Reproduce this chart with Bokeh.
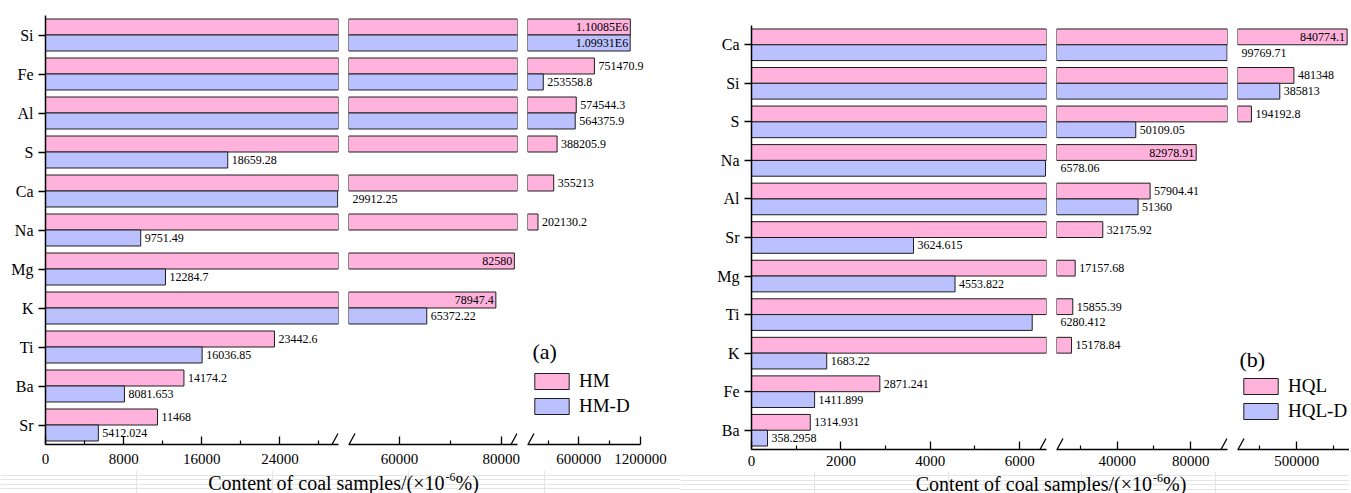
from bokeh.plotting import figure
from bokeh.models import (ColumnDataSource, FactorRange, Range1d, FixedTicker, CDSView, IndexFilter,
                          NumeralTickFormatter, LabelSet, Label, Legend, LegendItem, Arrow)
from bokeh.transform import dodge
from bokeh.layouts import row, column
from bokeh.core.properties import value
from bokeh.embed import file_html
from bokeh.resources import INLINE

# ---------------- data ----------------
elements_a = ["Si", "Fe", "Al", "S", "Ca", "Na", "Mg", "K", "Ti", "Ba", "Sr"]
hm = [1100850, 751470.9, 574544.3, 388205.9, 355213, 202130.2, 82580, 78947.4, 23442.6, 14174.2, 11468]
hm_d = [1099310, 253558.8, 564375.9, 18659.28, 29912.25, 9751.49, 12284.7, 65372.22, 16036.85, 8081.653, 5412.024]
series_a = ["HM", "HM-D"]

elements_b = ["Ca", "Si", "S", "Na", "Al", "Sr", "Mg", "Ti", "K", "Fe", "Ba"]
hql = [840774.1, 481348, 194192.8, 82978.91, 57904.41, 32175.92, 17157.68, 15855.39, 15178.84, 2871.241, 1314.931]
hql_d = [99769.71, 385813, 50109.05, 6578.06, 51360, 3624.615, 4553.822, 6280.412, 1683.22, 1411.899, 358.2958]
series_b = ["HQL", "HQL-D"]

# broken x axis: value span of every segment, and its ticks
segments_a = [(0, 30000), (50000, 83200), (100000, 1200000)]
major_ticks_a = [[0, 8000, 16000, 24000], [60000, 80000], [600000, 1200000]]
minor_ticks_a = [[4000, 12000, 20000, 28000], [70000], [300000, 900000]]
segments_b = [(0, 6600), (7000, 100000), (100000, 857000)]
major_ticks_b = [[0, 2000, 4000, 6000], [40000, 80000], [500000]]
minor_ticks_b = [[1000, 3000, 5000], [20000, 60000], [250000, 750000]]

axis_title = "Content of coal samples/(×10"
axis_title_sup = "-6"
axis_title_tail = "%)"
panel_tags = ["(a)", "(b)"]

# ---------------- style ----------------
PINK = "#FFB2DC"
BLUE = "#BAC1FE"
EDGE = "#1e1e1e"
FONT = "Liberation Serif"
LABEL_FS = 12


def fmt(v):
    if v >= 1e6:
        return f"{v / 1e6:.5f}E6"
    return "%.7g" % v


def text_width(t, fs=LABEL_FS):
    w = 0.0
    for ch in t:
        if ch.isdigit():
            w += 0.5
        elif ch == ".":
            w += 0.25
        else:
            w += 0.61
    return w * fs


def make_panel(cats, vals, names, segs, majors, minors, fws, fh, top, bottom, standoff,
               left0, right_last, tag, legend_xy, tag_xy, title_y, strip_h,
               pad_last=0, gap_r=4, gap_l=6):
    yr = FactorRange(factors=list(reversed(cats)), range_padding=0)
    src = ColumnDataSource(dict(cat=cats, v0=vals[0], v1=vals[1]))
    n = len(segs)
    ews = list(fws)
    rngs = [list(s) for s in segs]
    if pad_last:
        s0, s1 = segs[-1]
        ews[-1] = fws[-1] + pad_last
        rngs[-1][1] = s1 + pad_last / fws[-1] * (s1 - s0)
    figs, rends = [], []
    for k in range(n):
        p = figure(frame_width=ews[k], frame_height=fh,
                   x_range=Range1d(*rngs[k]), y_range=yr,
                   min_border_left=left0 if k == 0 else gap_l,
                   min_border_right=right_last if k == n - 1 else gap_r,
                   min_border_top=top, min_border_bottom=bottom,
                   toolbar_location=None, output_backend="svg", title=None,
                   y_axis_location="left" if k == 0 else None,
                   outline_line_color=None, border_fill_alpha=0)
        for g in p.grid:
            g.visible = False
        pair = []
        for s, (col, color, dv) in enumerate([("v0", PINK, 0.205), ("v1", BLUE, -0.205)]):
            idx = [i for i, v in enumerate(vals[s]) if v > rngs[k][0]]
            r = p.hbar(y=dodge("cat", dv, range=yr), left=0, right=col, height=0.41,
                       fill_color=color, line_color=EDGE, line_width=1, source=src,
                       view=CDSView(filter=IndexFilter(idx)))
            pair.append(r)
        rends.append(pair)
        ax = p.xaxis[0]
        ax.ticker = FixedTicker(ticks=majors[k], minor_ticks=minors[k])
        ax.formatter = NumeralTickFormatter(format="0")
        if pad_last and k == n - 1:
            ax.bounds = tuple(segs[k])
        ax.major_tick_in = 8
        ax.major_tick_out = 0
        ax.minor_tick_in = 4
        ax.minor_tick_out = 0
        ax.axis_line_width = 1.5
        ax.major_tick_line_width = 1.3
        ax.minor_tick_line_width = 1.2
        ax.major_label_text_font = FONT
        ax.major_label_text_font_size = "15px"
        ax.major_label_text_color = "black"
        ax.major_label_standoff = standoff
        if k == 0:
            ya = p.yaxis[0]
            ya.major_tick_out = 7
            ya.major_tick_in = 0
            ya.axis_line_width = 1.5
            ya.major_tick_line_width = 1.3
            ya.major_label_text_font = FONT
            ya.major_label_text_font_size = "16px"
            ya.major_label_text_color = "black"
            ya.major_label_standoff = 5
        figs.append(p)

    # value labels
    groups = {}
    for s in range(2):
        for c, v in zip(cats, vals[s]):
            t = fmt(v)
            k = 0
            for j in range(n):
                if v >= rngs[j][0]:
                    k = j
            start, end = rngs[k]
            px = (min(v, end) - start) / (end - start) * ews[k]
            if v <= end and px + 4 + text_width(t) <= ews[k]:
                key, x = (k, s, "left", 4), v
            elif s == 1 and k < n - 1:
                key, x = (k + 1, s, "left", 4), rngs[k + 1][0]
            else:
                key, x = (k, s, "right", -2), v
            d = groups.setdefault(key, dict(x=[], cat=[], t=[]))
            d["x"].append(x)
            d["cat"].append(c)
            d["t"].append(t)
    for (k, s, al, off), d in groups.items():
        ls = LabelSet(x="x", y=dodge("cat", 0.205 if s == 0 else -0.205, range=yr),
                      text="t", source=ColumnDataSource(d), x_offset=off,
                      text_align=al, text_baseline="middle",
                      text_font=value(FONT), text_font_size=f"{LABEL_FS}px",
                      text_color="black")
        figs[k].add_layout(ls)

    # axis-break marks (kept inside the frames)
    for k in range(n):
        edges = []
        if k > 0:
            edges.append(3.5)
        if k < n - 1:
            edges.append(ews[k] - 3.5)
        for xc in edges:
            figs[k].add_layout(Arrow(end=None, x_start=xc - 3, y_start=0, x_end=xc + 3, y_end=11,
                                     start_units="screen", end_units="screen",
                                     line_color="black", line_width=1.3))

    last = figs[-1]
    leg = Legend(items=[LegendItem(label=names[0], renderers=[rends[-1][0]]),
                        LegendItem(label=names[1], renderers=[rends[-1][1]])],
                 location=legend_xy, orientation="vertical", padding=0, margin=0,
                 spacing=3, glyph_width=43, glyph_height=20, label_height=20,
                 label_standoff=6, label_text_font=FONT, label_text_font_size="19px",
                 label_text_color="black", border_line_color=None,
                 background_fill_alpha=0)
    last.add_layout(leg)
    last.add_layout(Label(x=tag_xy[0], y=tag_xy[1], x_units="screen", y_units="screen",
                          text=tag, text_font=FONT, text_font_size="22px",
                          text_baseline="middle", text_color="black"))

    widths = []
    for k in range(n):
        lb = left0 if k == 0 else gap_l
        rb = right_last if k == n - 1 else gap_r
        widths.append(lb + ews[k] + rb)
    total_w = sum(widths)
    center = (left0 + total_w - right_last - pad_last) / 2.0
    main_w, sup_w, tail_w = 236, 10, 23
    X = center - (main_w + sup_w + tail_w) / 2.0 + main_w

    sp = figure(width=total_w, height=strip_h, min_border=0, x_axis_location=None,
                y_axis_location=None, toolbar_location=None, output_backend="svg",
                title=None, x_range=Range1d(0, 1), y_range=Range1d(0, 1),
                outline_line_color=None, border_fill_alpha=0, background_fill_alpha=0)
    sp.add_layout(Label(x=X, y=title_y, x_units="screen", y_units="screen", text=axis_title,
                        text_align="right", text_baseline="middle", text_font=FONT,
                        text_font_size="20px", text_color="black"))
    sp.add_layout(Label(x=X + 1, y=title_y + 6, x_units="screen", y_units="screen",
                        text=axis_title_sup, text_align="left", text_baseline="middle",
                        text_font=FONT, text_font_size="12px", text_color="black"))
    sp.add_layout(Label(x=X + sup_w + 1, y=title_y, x_units="screen", y_units="screen",
                        text=axis_title_tail, text_align="left", text_baseline="middle",
                        text_font=FONT, text_font_size="20px", text_color="black"))
    return column(row(*figs), sp)


panel_a = make_panel(elements_a, [hm, hm_d], series_a, segments_a, major_ticks_a, minor_ticks_a,
                     fws=[293, 169, 113], fh=429, top=15, bottom=26, standoff=9,
                     left0=45, right_last=32, tag=panel_tags[0], legend_xy=(3, 27),
                     tag_xy=(5, 93), title_y=11, strip_h=23, pad_last=8)
panel_b = make_panel(elements_b, [hql, hql_d], series_b, segments_b, major_ticks_b, minor_ticks_b,
                     fws=[295, 171, 112], fh=424, top=25, bottom=22, standoff=6,
                     left0=71, right_last=0, tag=panel_tags[1], legend_xy=(2, 27),
                     tag_xy=(2, 90), title_y=10, strip_h=22)

layout = row(panel_a, panel_b)
open("out.html", "w").write(file_html(layout, INLINE))
